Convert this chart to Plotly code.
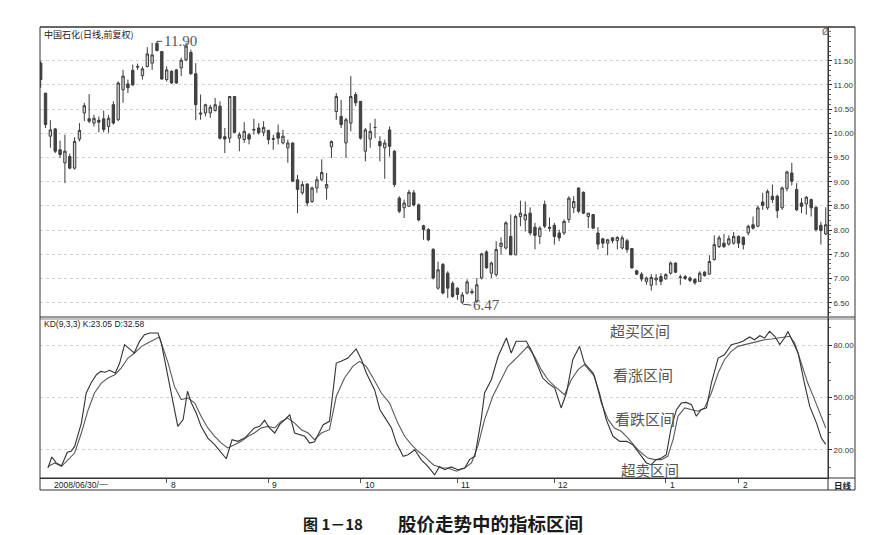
import plotly.graph_objects as go

# ---------------- data ----------------
open_ = [11.45,10.83,9.94,10.09,9.66,9.39,9.52,9.28,9.88,10.42,10.30,10.21,10.27,10.30,10.14,10.59,10.28,10.90,11.02,11.30,
         11.38,11.19,11.38,11.45,11.86,11.69,11.11,11.28,11.31,11.35,11.52,11.67,11.23,10.42,10.42,10.42,10.47,10.56,9.93,9.90,
         10.76,9.90,9.87,9.97,10.08,10.11,10.02,10.06,9.89,10.01,9.80,9.70,9.80,9.04,8.77,8.95,8.59,8.87,9.04,8.87,
         9.72,10.45,10.35,9.80,10.21,10.80,10.66,9.63,9.88,10.12,9.83,9.70,10.07,9.63,8.66,8.46,8.49,8.77,8.52,8.09,
         8.01,7.60,6.80,7.29,7.11,6.90,6.80,6.51,6.70,6.73,6.53,7.01,7.55,7.11,7.08,7.66,7.63,7.87,7.49,8.28,
         8.21,8.35,8.06,7.87,8.53,8.06,8.10,7.94,7.94,8.22,8.46,8.87,8.78,8.28,8.32,7.94,7.82,7.73,7.84,7.78,
         7.63,7.78,7.62,7.16,7.09,6.94,6.86,6.97,7.04,6.99,7.11,7.32,7.02,7.00,7.01,6.98,6.94,7.13,7.09,7.39,
         7.66,7.73,7.71,7.73,7.87,7.85,7.94,8.11,8.08,8.58,8.46,8.70,8.70,8.46,8.86,9.18,8.84,8.56,8.54,8.63,
         8.47,8.10,7.92]
high = [11.49,10.83,10.27,10.11,9.85,9.97,9.58,9.92,10.21,10.63,10.81,10.38,10.35,10.47,10.38,10.66,11.07,11.31,11.11,11.42,
        11.44,11.38,11.78,11.87,11.90,11.69,11.38,11.30,11.33,11.56,11.87,11.73,11.45,10.80,10.61,10.59,10.73,10.66,10.11,10.76,
        10.76,10.02,10.23,10.01,10.30,10.21,10.25,10.07,9.97,10.18,10.07,9.87,9.81,9.14,9.01,8.97,8.90,9.11,9.46,9.18,
        9.85,10.83,10.69,10.32,11.18,10.85,10.66,10.11,10.21,10.30,9.94,9.87,10.14,9.65,8.70,8.63,8.83,8.83,8.55,8.11,
        8.04,7.63,7.35,7.32,7.15,6.94,6.82,6.72,6.98,6.79,7.01,7.53,7.58,7.35,7.77,7.85,8.18,8.32,8.32,8.61,
        8.59,8.47,8.15,8.08,8.61,8.26,8.15,8.01,8.22,8.70,8.70,8.88,8.80,8.35,8.33,8.06,7.84,7.82,7.85,7.87,
        7.89,7.82,7.63,7.18,7.13,7.04,7.09,7.09,7.11,7.11,7.35,7.33,7.08,7.07,7.04,7.01,7.15,7.15,7.48,7.89,
        7.89,7.92,7.89,7.96,7.89,7.87,8.11,8.28,8.51,8.77,8.84,8.94,8.73,8.90,9.23,9.39,8.97,8.66,8.70,8.65,
        8.49,8.17,8.47]
low = [10.94,10.11,9.70,9.59,9.49,8.97,9.26,9.25,9.83,10.25,10.21,10.14,10.02,10.02,10.01,10.18,10.25,10.63,10.83,10.98,
       11.31,11.11,11.36,11.31,11.69,11.11,11.07,11.02,11.02,11.18,11.49,11.21,10.27,10.28,10.35,10.32,10.45,9.87,9.59,9.80,
       10.00,9.63,9.80,9.77,9.97,9.97,9.94,9.77,9.66,9.77,9.77,9.39,8.99,8.35,8.73,8.49,8.56,8.77,9.01,8.63,
       9.49,10.28,10.11,9.49,10.04,10.56,9.87,9.42,9.70,9.90,9.42,9.06,9.52,8.89,8.35,8.25,8.48,8.49,8.18,7.80,
       7.77,6.98,6.77,6.67,6.60,6.60,6.56,6.47,6.67,6.67,6.49,6.98,7.20,7.01,7.04,7.49,7.60,7.48,7.48,8.08,
       7.97,7.89,7.60,7.71,8.04,7.97,7.70,7.77,7.90,8.15,8.35,8.35,8.33,8.04,8.03,7.60,7.63,7.48,7.73,7.60,
       7.60,7.53,7.20,7.07,6.94,6.87,6.75,6.86,6.86,6.98,7.08,7.11,6.87,6.97,6.93,6.87,6.93,7.04,7.08,7.37,
       7.63,7.63,7.68,7.70,7.63,7.60,7.89,8.01,8.06,8.42,8.42,8.56,8.25,8.42,8.80,8.92,8.39,8.35,8.32,8.28,
       7.97,7.70,7.90]
close = [11.11,10.18,10.07,9.63,9.56,9.63,9.28,9.83,10.06,10.57,10.25,10.31,10.23,10.08,10.31,10.21,11.04,11.18,10.94,11.00,
         11.37,11.33,11.64,11.62,11.71,11.12,11.31,11.04,11.04,11.51,11.80,11.23,10.59,10.40,10.59,10.54,10.59,9.90,9.88,10.76,
         10.02,9.97,10.04,9.88,10.07,10.01,10.12,9.87,9.88,9.90,9.94,9.80,9.01,8.84,8.94,8.56,8.87,9.04,9.19,8.94,
         9.83,10.76,10.18,10.28,10.76,10.63,9.90,10.07,10.04,10.12,9.74,9.80,9.73,8.94,8.39,8.56,8.78,8.52,8.21,8.01,
         7.80,7.01,7.18,6.70,6.80,6.63,6.67,6.66,6.93,6.71,6.87,7.51,7.22,7.32,7.60,7.73,8.15,7.49,8.28,8.35,
         8.32,7.94,7.89,8.04,8.08,8.04,7.87,7.84,8.18,8.66,8.59,8.39,8.35,8.35,8.04,7.71,7.73,7.80,7.78,7.85,
         7.84,7.60,7.22,7.09,6.99,7.01,7.02,7.01,6.94,7.08,7.32,7.13,7.03,7.04,6.96,6.91,7.11,7.06,7.35,7.70,
         7.84,7.66,7.82,7.87,7.73,7.70,8.08,8.04,8.46,8.51,8.80,8.63,8.40,8.87,9.20,9.01,8.42,8.49,8.68,8.46,
         8.01,7.99,8.11]

k_idx = [1.5,2.3,3.2,4.3,5.5,6.3,7.0,8.4,9.4,10.4,11.5,12.4,13.3,14.2,15.4,16.3,17.3,18.4,19.3,20.4,
         21.4,22.5,24.2,24.9,28.3,29.4,30.3,31.1,32.1,33.1,34.5,35.9,37.3,38.3,39.5,40.7,42.1,43.1,44.1,45.2,
         46.2,47.2,48.3,49.3,50.3,51.4,52.4,53.4,54.5,55.5,56.5,58.3,59.6,61.0,62.0,63.4,65.1,66.2,67.2,68.9,
         70.0,71.3,72.4,73.4,74.8,75.8,77.2,78.5,79.9,81.3,82.3,83.4,84.7,86.1,87.5,88.5,89.6,90.9,91.6,93.0,
         94.4,96.1,97.1,98.1,100.2,101.2,102.6,103.6,104.7,106.1,107.4,108.5,109.8,111.2,112.2,114.0,115.3,116.7,118.1,119.5,
         120.9,122.2,124.0,125.0,126.0,127.0,128.1,129.1,130.1,131.2,132.2,133.2,134.3,135.3,136.3,137.4,138.4,139.8,141.1,142.5,
         143.9,144.9,146.3,147.3,148.4,149.4,150.4,151.5,152.5,153.5,154.2,155.2,156.3,157.6,158.7,160.1,161.1,162.0]
k_val = [9.5,15.8,12.4,10.8,18.5,19.1,21.9,35.3,52.6,58.3,63.1,65.0,64.5,65.6,64.1,69.8,80.4,77.5,75.6,82.3,
         86.1,87.1,87.1,81.3,33.4,37.3,53.6,46.8,41.1,33.4,26.7,22.9,18.1,14.8,25.8,24.8,26.7,29.6,32.5,33.4,
         36.9,32.5,29.6,34.4,37.3,40.1,29.6,28.6,27.7,23.8,24.5,34.4,36.3,69.8,70.8,72.7,77.9,71.7,64.1,54.5,
         43.0,37.3,32.5,23.8,16.2,17.1,20.0,14.3,10.4,5.6,10.4,8.5,10.1,8.5,9.5,14.3,16.2,37.3,52.6,60.2,
         73.7,84.2,75.6,82.3,82.3,77.5,67.9,61.2,58.3,55.4,44.0,52.6,71.7,79.4,69.8,64.1,52.6,37.3,27.7,24.8,
         24.8,22.9,16.2,12.4,11.4,14.3,15.2,17.1,32.5,43.0,46.8,47.2,45.9,39.2,43.0,44.0,58.3,72.7,74.6,80.4,
         81.3,82.3,84.8,83.2,85.5,84.2,88.0,85.2,80.4,84.2,88.0,82.3,75.6,58.3,44.9,35.3,26.7,23.05]

d_idx = [1.5,2.9,4.3,5.6,7.0,8.4,9.8,11.1,12.5,13.9,15.3,16.6,18.0,19.4,20.8,22.1,23.5,24.5,26.3,27.6,
         29.0,30.4,31.8,33.1,34.5,35.9,37.3,38.6,40.0,41.4,42.8,44.1,45.5,46.9,48.3,49.6,51.0,52.4,53.8,55.2,
         56.5,57.9,59.6,61.0,62.7,64.4,65.8,67.2,68.6,70.3,72.0,73.7,75.1,76.5,77.9,79.2,81.0,82.7,84.0,85.8,
         87.5,88.9,90.2,91.6,93.3,94.7,96.4,97.8,99.2,100.5,101.9,103.3,104.7,106.1,108.1,109.5,110.9,112.2,114.3,115.7,
         117.1,118.4,119.8,121.2,122.6,124.0,125.3,126.7,128.1,129.4,130.5,131.5,132.9,134.3,135.6,137.0,138.4,139.8,141.1,142.5,
         143.9,145.3,146.6,148.0,149.4,150.8,152.1,153.5,154.6,155.6,157.0,158.3,159.7,161.1,162.0]
d_val = [10.4,12.4,10.4,14.3,18.1,29.6,43.0,52.6,58.3,61.2,63.1,66.9,72.7,75.6,79.4,81.3,83.2,84.8,69.8,56.4,
         48.8,49.7,46.8,39.2,32.5,27.7,23.8,21.0,22.9,24.8,27.7,29.6,32.5,33.4,32.5,36.3,38.2,35.3,31.5,29.6,
         25.8,29.6,31.5,50.7,61.2,67.9,70.8,67.9,61.2,52.6,46.8,35.3,27.7,22.9,19.1,16.2,11.4,9.5,9.5,7.6,
         9.5,12.4,21.9,37.3,50.7,58.3,67.9,71.7,75.6,79.4,73.7,66.0,60.2,56.4,51.6,60.2,66.0,68.9,62.2,46.8,
         37.3,32.5,30.6,26.7,21.9,18.1,15.2,14.3,14.3,16.2,25.8,39.2,44.0,43.0,42.1,44.0,52.6,64.1,71.7,76.5,
         79.4,80.4,81.3,82.3,83.2,83.6,84.2,84.8,85.2,81.3,69.8,58.3,48.8,39.2,32.58]

price_ticks = [6.5, 7.0, 7.5, 8.0, 8.5, 9.0, 9.5, 10.0, 10.5, 11.0, 11.5]
kd_ticks = [20, 50, 80]
month_idx = [26, 47, 66, 86, 106, 129, 144]
month_lbl = ["8", "9", "10", "11", "12", "1", "2"]
high_idx, high_val = 24, 11.90
low_idx, low_val = 87, 6.47

# ---------------- layout helpers (pixel -> paper) ----------------
W, H = 875, 535
def px(x): return x / W
def py(y): return 1 - y / H

x_idx = list(range(len(open_)))
DARK = "#3c3c3c"

fig = go.Figure()
fig.add_trace(go.Candlestick(
    x=x_idx, open=open_, high=high, low=low, close=close,
    xaxis="x", yaxis="y",
    increasing=dict(line=dict(color=DARK, width=1), fillcolor="#d4d4d4"),
    decreasing=dict(line=dict(color=DARK, width=1), fillcolor="#454545"),
    whiskerwidth=0, showlegend=False, hoverinfo="skip"))
fig.add_trace(go.Scatter(x=d_idx, y=d_val, mode="lines", xaxis="x", yaxis="y2",
                         line=dict(color="#5a5a5a", width=1.1), showlegend=False, hoverinfo="skip"))
fig.add_trace(go.Scatter(x=k_idx, y=k_val, mode="lines", xaxis="x", yaxis="y2",
                         line=dict(color="#333333", width=1.1), showlegend=False, hoverinfo="skip"))

axfont = dict(family="Liberation Sans, Arial", size=8, color="#333")
fig.update_layout(
    width=W, height=H, margin=dict(l=0, r=0, t=0, b=0),
    paper_bgcolor="white", plot_bgcolor="white",
    boxgap=0.3,
    xaxis=dict(domain=[px(32), px(820)], range=[-0.14, 162.47], anchor="y2",
               rangeslider=dict(visible=False), showgrid=False, zeroline=False,
               tickvals=month_idx, ticks="outside", ticklen=4, tickcolor="#555",
               showticklabels=False, showline=True, linecolor="#333", linewidth=1),
    yaxis=dict(domain=[py(308), py(19)], range=[6.225, 12.196], side="right", anchor="x",
               tickvals=price_ticks, tickformat=".2f", ticks="outside", ticklen=3, tickcolor="#333",
               tickfont=axfont, showline=True, linecolor="#333", linewidth=1,
               showgrid=True, gridcolor="#d2d2d2", griddash="dot", gridwidth=1, zeroline=False,
               minor=dict(dtick=0.1, ticks="outside", ticklen=2, tickcolor="#666", showgrid=False)),
    yaxis2=dict(domain=[py(470), py(310)], range=[3.74, 95.7], side="right", anchor="x",
                tickvals=kd_ticks, tickformat=".2f", ticks="outside", ticklen=3, tickcolor="#333",
                tickfont=axfont, showline=True, linecolor="#333", linewidth=1,
                showgrid=True, gridcolor="#d4d4d4", griddash="dot", gridwidth=1, zeroline=False,
                minor=dict(dtick=10, ticks="outside", ticklen=2, tickcolor="#666", showgrid=False)),
)

# frames
shapes = []
def hline(y, x0=32, x1=847, w=1.0):
    shapes.append(dict(type="line", xref="paper", yref="paper", x0=px(x0), x1=px(x1),
                       y0=py(y), y1=py(y), line=dict(color="#333", width=w)))
def vline(x, y0, y1, w=1.0):
    shapes.append(dict(type="line", xref="paper", yref="paper", x0=px(x), x1=px(x),
                       y0=py(y0), y1=py(y1), line=dict(color="#333", width=w)))
hline(19, w=1.6)
hline(309)
hline(311, w=0.6)
hline(470)
hline(482)
vline(32, 19, 482)
vline(847, 19, 482)
vline(820, 19, 482)
fig.update_layout(shapes=shapes)

ann = []
def txt(x, y, s, size=9, color="#333", family="Noto Sans CJK SC", xanchor="left", **kw):
    ann.append(dict(x=px(x), y=py(y), xref="paper", yref="paper", text=s, showarrow=False,
                    xanchor=xanchor, yanchor="middle", font=dict(size=size, color=color, family=family), **kw))

txt(34, 26, "中国石化(日线,前复权)", size=9, color="#222")
txt(34, 316, "KD(9,3,3) K:23.05 D:32.58", size=8.5, color="#222", family="Liberation Sans, Arial")
txt(44, 476.5, "2008/06/30/一", size=8.5, color="#222", family="Liberation Sans, Arial")
txt(824, 476.5, "<b>日线</b>", size=8.5, color="#222")
txt(812, 24, "Ø", size=9, color="#555", family="DejaVu Sans")

# zone labels in KD pane
zone_font = "Noto Sans CJK SC"
txt(600, 322.5, "超买区间", size=15, color="#555", family=zone_font)
txt(603, 366, "看涨区间", size=15, color="#555", family=zone_font)
txt(605, 410, "看跌区间", size=15, color="#555", family=zone_font)
txt(611, 461.5, "超卖区间", size=14.5, color="#555", family=zone_font)

# caption
txt(293, 515, "<b>图 1－18</b>", size=15, color="#1a1a1a", family="Noto Sans CJK SC")
txt(388, 515, "<b>股价走势中的指标区间</b>", size=18.5, color="#1a1a1a", family="Noto Sans CJK SC")

# month labels in the date strip
for mi, ml in zip(month_idx, month_lbl):
    ann.append(dict(x=mi, y=py(476.5), xref="x", yref="paper", text=ml, showarrow=False,
                    xanchor="left", yanchor="middle", xshift=2,
                    font=dict(size=8.5, color="#222", family="Liberation Sans, Arial")))

# extreme price labels
ann.append(dict(x=high_idx, y=high_val, xref="x", yref="y", text="11.90", showarrow=True,
                arrowhead=0, arrowwidth=1, arrowcolor="#444", ax=5, ay=0, standoff=0,
                xanchor="left", yanchor="middle",
                font=dict(size=15, color="#555", family="Liberation Serif, Times New Roman")))
ann.append(dict(x=low_idx, y=low_val, xref="x", yref="y", text="6.47", showarrow=True,
                arrowhead=0, arrowwidth=1, arrowcolor="#444", ax=9, ay=1, standoff=1,
                xanchor="left", yanchor="middle",
                font=dict(size=15, color="#555", family="Liberation Serif, Times New Roman")))

fig.update_layout(annotations=ann)
fig.write_html("out.html")
